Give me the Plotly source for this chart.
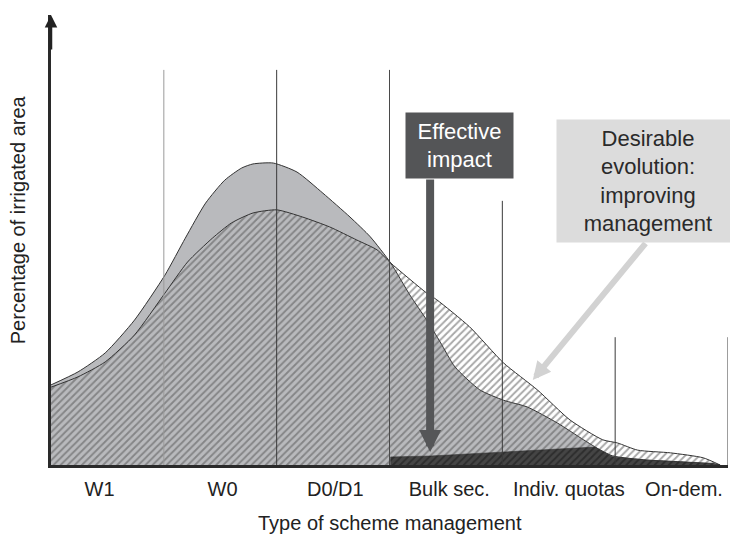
import plotly.graph_objects as go

# ---- data (x in scheme-category units 0..6, y in relative % of irrigated area) ----
categories = ["W1", "W0", "D0/D1", "Bulk sec.", "Indiv. quotas", "On-dem."]
category_label_pos = [0.43, 1.52, 2.52, 3.53, 4.59, 5.61]

current_x = [0, 0.24, 0.48, 0.74, 1.01, 1.19, 1.37, 1.54, 1.69, 1.79, 1.97, 2.18, 2.41,
             2.65, 2.83, 3.01, 3.18, 3.33, 3.45, 3.58, 3.80, 4.01, 4.22, 4.49, 4.72,
             4.87, 4.98, 5.28, 5.58, 5.87, 5.93]
current_y = [17.8, 20.7, 24.9, 32.2, 42.2, 50.4, 58.2, 63.3, 66.0, 66.9, 67.1, 65.1, 60.4,
             55.1, 50.7, 44.9, 37.8, 32.2, 27.3, 21.8, 16.7, 14.4, 12.9, 9.3, 5.6,
             3.3, 2.0, 1.1, 0.7, 0.2, 0]

desired_x = [0, 0.24, 0.48, 0.74, 1.01, 1.21, 1.43, 1.60, 1.79, 2.00, 2.23, 2.47, 2.71,
             2.89, 3.01, 3.33, 3.42, 3.71, 4.01, 4.31, 4.60, 4.89, 5.02, 5.20, 5.49,
             5.78, 5.93]
desired_y = [17.3, 19.6, 22.9, 28.9, 38.2, 45.1, 50.4, 53.8, 56.0, 56.7, 55.1, 52.9, 50.0,
             47.8, 44.9, 38.2, 36.7, 30.7, 22.7, 16.7, 10.0, 5.6, 4.9, 3.3, 2.7,
             1.6, 0]

impact_x = [3.01, 3.01, 3.36, 4.01, 4.72, 4.82, 4.98, 5.28, 5.58, 5.87, 5.93]
impact_y = [0, 1.8, 2.0, 2.9, 4.0, 4.0, 1.8, 1.1, 0.7, 0.4, 0]

boundaries = [1, 2, 3, 4, 5, 6]
boundary_tops = [87.8, 87.8, 87.8, 58.7, 28.4, 28.4]
boundary_colors = ["#9a9a9a", "#3a3a3a", "#4a4a4a", "#3a3a3a", "#3a3a3a", "#3a3a3a"]

FONT = "Liberation Sans, Arial, Helvetica, sans-serif"

fig = go.Figure()

# current distribution (solid grey)
fig.add_trace(go.Scatter(
    x=current_x, y=current_y, mode="lines", fill="tozeroy",
    line=dict(color="#333333", width=1, shape="spline", smoothing=0.6),
    fillcolor="#b9babd", hoverinfo="skip", showlegend=False))

# desirable distribution (hatched)
fig.add_trace(go.Scatter(
    x=desired_x, y=desired_y, mode="lines", fill="tozeroy",
    line=dict(color="#333333", width=1, shape="spline", smoothing=0.6),
    fillcolor="rgba(0,0,0,0)",
    fillpattern=dict(shape="/", size=5, solidity=0.38,
                     fgcolor="#505050", bgcolor="rgba(0,0,0,0)"),
    hoverinfo="skip", showlegend=False))

# effective impact (dark)
fig.add_trace(go.Scatter(
    x=impact_x, y=impact_y, mode="lines", fill="tozeroy",
    line=dict(color="#2a2a2a", width=0.5),
    fillcolor="#3a3a3a",
    fillpattern=dict(shape="/", size=5, solidity=0.4,
                     fgcolor="#151515", bgcolor="#454545"),
    hoverinfo="skip", showlegend=False))

# category boundary lines
for bx, top, col in zip(boundaries, boundary_tops, boundary_colors):
    fig.add_trace(go.Scatter(
        x=[bx, bx], y=[0, top], mode="lines",
        line=dict(color=col, width=1), hoverinfo="skip", showlegend=False))

annotations = [
    # y-axis arrow head
    dict(x=0, y=100, ax=0, ay=92, xref="x", yref="y", axref="x", ayref="y",
         text="", showarrow=True, arrowhead=2, arrowsize=1, arrowwidth=2.5,
         arrowcolor="#222222", standoff=0),
    # effective impact arrow
    dict(x=3.36, y=2.9, ax=3.36, ay=63.8, xref="x", yref="y", axref="x", ayref="y",
         text="", showarrow=True, arrowhead=2, arrowsize=0.55, arrowwidth=8,
         arrowcolor="#555658", standoff=0),
    # desirable evolution arrow
    dict(x=4.27, y=18.9, ax=5.28, ay=49.6, xref="x", yref="y", axref="x", ayref="y",
         text="", showarrow=True, arrowhead=2, arrowsize=0.6, arrowwidth=6,
         arrowcolor="#d2d2d2", standoff=0),
    # boxes
    dict(x=3.62, y=70.9, xref="x", yref="y", showarrow=False,
         text="Effective<br>impact", width=107, height=65, bgcolor="#545557",
         borderpad=0, font=dict(family=FONT, size=22, color="#ffffff"),
         xanchor="center", yanchor="middle"),
    dict(x=5.29, y=63.1, xref="x", yref="y", showarrow=False,
         text="Desirable<br>evolution:<br>improving<br>management", width=182, height=122,
         bgcolor="#dcdcdc", borderpad=0, font=dict(family=FONT, size=22, color="#2a2a2a"),
         xanchor="center", yanchor="middle"),
    # axis titles
    dict(x=-0.0487, y=0.544, xref="paper", yref="paper", showarrow=False,
         text="Percentage of irrigated area", textangle=-90,
         font=dict(family=FONT, size=20, color="#222222"),
         xanchor="center", yanchor="middle"),
    dict(x=0.5007, y=-0.129, xref="paper", yref="paper", showarrow=False,
         text="Type of scheme management",
         font=dict(family=FONT, size=20, color="#222222"),
         xanchor="center", yanchor="middle"),
]

# the page body has an 8px margin, so the figure is sized/offset to fill the window
fig.update_layout(
    width=730, height=529,
    margin=dict(l=43, r=10, t=7, b=72),
    paper_bgcolor="white", plot_bgcolor="white",
    annotations=annotations,
    xaxis=dict(range=[0, 6], showgrid=False, zeroline=False, showline=True,
               linecolor="#2a2a2a", linewidth=3, tickmode="array",
               tickvals=category_label_pos, ticktext=categories, ticks="",
               ticklabelstandoff=4,
               tickfont=dict(family=FONT, size=20, color="#222222"), fixedrange=True),
    yaxis=dict(range=[0, 100], showgrid=False, zeroline=False, showline=True,
               linecolor="#2a2a2a", linewidth=3, showticklabels=False, ticks="",
               fixedrange=True),
)

fig.write_html("out.html")
